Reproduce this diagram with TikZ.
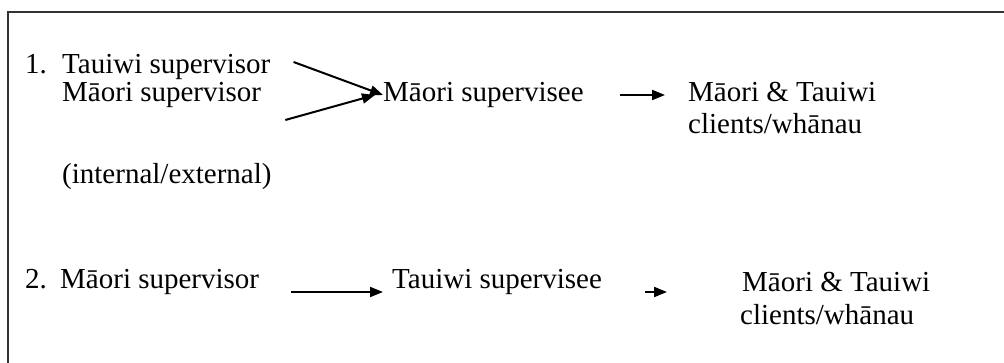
\documentclass[tikz,border=0pt]{standalone}
\usepackage{fontspec}
\setmainfont{Liberation Serif}
\usetikzlibrary{arrows.meta}
\begin{document}
\begin{tikzpicture}[x=1pt,y=-1pt,
  txt/.style={anchor=base west,inner sep=0pt,font=\fontsize{29}{30}\selectfont},
  arr/.style={line width=2pt,-{Triangle[length=13pt,width=10pt]}},
  frame/.style={line width=2pt,draw=black!80}]
\useasboundingbox (0,0) rectangle (1004,363);
\fill[white] (0,0) rectangle (1004,363);
\draw[frame] (1010,12) -- (8,12) -- (8,370);
% row 1
\node[txt] (n1) at (25,74) {1.};
\node[txt] (ts) at (62,74) {Tauiwi supervisor};
\node[txt] (ms) at (62,102) {M\=aori supervisor};
\node[txt] (ie) at (62,184) {(internal/external)};
\node[txt] (msee) at (383,102) {M\=aori supervisee};
\node[txt] (c1a) at (688,102) {M\=aori \& Tauiwi};
\node[txt] (c1b) at (688,134) {clients/wh\=anau};
\coordinate (tip1) at ([yshift=7pt]msee.base west);
\draw[arr] ([xshift=23pt,yshift=12pt]ts.base east) -- (tip1);
\draw[arr] ([xshift=24pt,yshift=-18pt]ms.base east) -- ([xshift=-8pt]tip1);
\draw[arr] ([xshift=36pt,yshift=7pt]msee.base east) -- ([xshift=-23pt,yshift=7pt]c1a.base west);
% row 2
\node[txt] (n2) at (25,289) {2.};
\node[txt] (ms2) at (60,289) {M\=aori supervisor};
\node[txt] (tsee) at (392,289) {Tauiwi supervisee};
\node[txt] (c2a) at (742,292) {M\=aori \& Tauiwi};
\node[txt] (c2b) at (740,324) {clients/wh\=anau};
\draw[arr] ([xshift=32pt,yshift=-3pt]ms2.base east) -- ([xshift=-9pt,yshift=-3pt]tsee.base west);
\draw[arr] ([xshift=43pt,yshift=-3pt]tsee.base east) -- ([xshift=-75pt]c2a.base west);
\end{tikzpicture}
\end{document}
